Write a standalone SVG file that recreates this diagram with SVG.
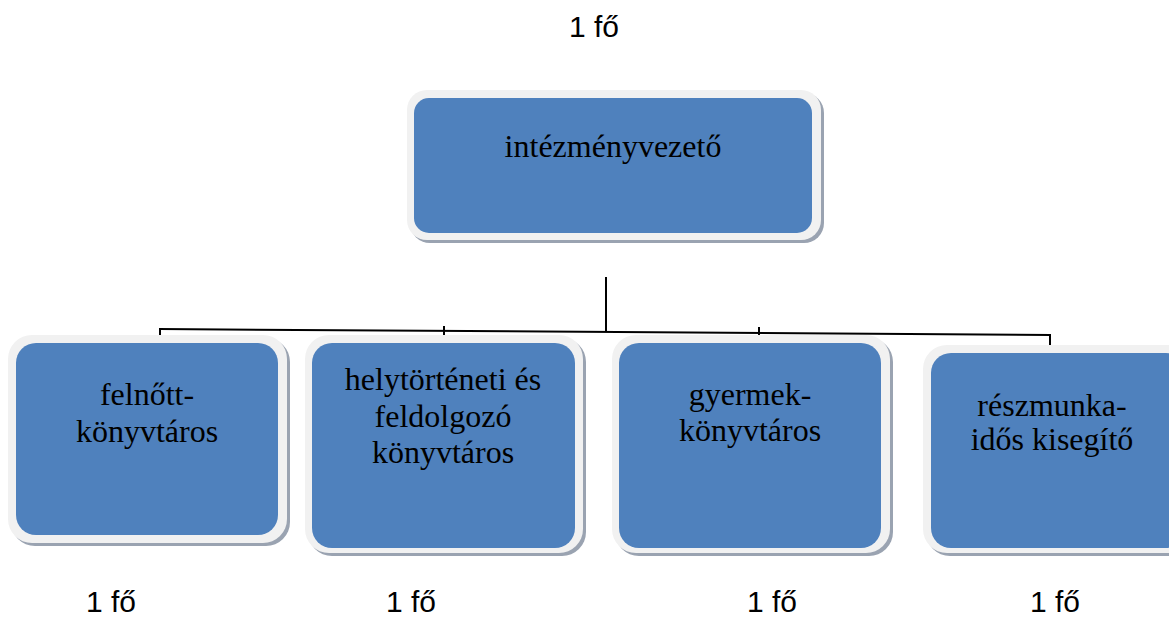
<svg xmlns="http://www.w3.org/2000/svg" width="1169" height="619" viewBox="0 0 1169 619">
<style>
.sh{fill:#9aa3b1}
.fr{fill:#f1f1f1}
.bx{fill:#4f81bd}
.t{font-family:"Liberation Serif","Times New Roman",serif;font-size:32px;fill:#000;text-anchor:middle}
.c{font-family:"Liberation Sans",Arial,sans-serif;font-size:30px;fill:#000}
.ln{stroke:#000;stroke-width:2;fill:none}
</style>
<rect width="1169" height="619" fill="#fff"/>
<g id="connectors">
<line class="ln" x1="606" y1="277" x2="606" y2="332"/>
<line class="ln" x1="159" y1="329" x2="1051" y2="335"/>
<line class="ln" x1="160" y1="328" x2="160" y2="338"/>
<line class="ln" x1="1050" y1="334" x2="1050" y2="346"/>
<line class="ln" x1="444" y1="326" x2="444" y2="335"/>
<line class="ln" x1="759" y1="327" x2="759" y2="336"/>
</g>
<g id="n0">
<rect class="sh" x="410" y="93" width="414" height="150" rx="20"/>
<rect class="fr" x="407" y="90" width="414" height="150" rx="20"/>
<rect class="bx" x="414" y="98" width="398" height="135" rx="15"/>
<text class="t" x="613" y="157">intézményvezető</text>
</g>
<g id="n1">
<rect class="sh" x="11" y="338" width="279" height="208" rx="24"/>
<rect class="fr" x="8" y="335" width="279" height="208" rx="24"/>
<rect class="bx" x="16" y="343" width="262" height="192" rx="20"/>
<text class="t" x="147" y="405">felnőtt-</text>
<text class="t" x="147" y="442">könyvtáros</text>
</g>
<g id="n2">
<rect class="sh" x="308" y="338" width="278" height="218" rx="24"/>
<rect class="fr" x="305" y="335" width="278" height="218" rx="24"/>
<rect class="bx" x="312" y="343" width="263" height="205" rx="20"/>
<text class="t" x="443" y="390">helytörténeti és</text>
<text class="t" x="443" y="427">feldolgozó</text>
<text class="t" x="443" y="463">könyvtáros</text>
</g>
<g id="n3">
<rect class="sh" x="615" y="338" width="278" height="218" rx="24"/>
<rect class="fr" x="612" y="335" width="278" height="218" rx="24"/>
<rect class="bx" x="619" y="343" width="262" height="205" rx="20"/>
<text class="t" x="750" y="405">gyermek-</text>
<text class="t" x="750" y="441">könyvtáros</text>
</g>
<g id="n4">
<rect class="sh" x="926" y="348" width="270" height="208" rx="24"/>
<rect class="fr" x="923" y="345" width="270" height="208" rx="24"/>
<rect class="bx" x="931" y="353" width="255" height="195" rx="20"/>
<text class="t" x="1052" y="416">részmunka-</text>
<text class="t" x="1052" y="450">idős kisegítő</text>
</g>
<g id="counts">
<text class="c" x="569" y="37">1 fő</text>
<text class="c" x="86" y="612">1 fő</text>
<text class="c" x="386" y="612">1 fő</text>
<text class="c" x="747" y="612">1 fő</text>
<text class="c" x="1030" y="612">1 fő</text>
</g>
</svg>
